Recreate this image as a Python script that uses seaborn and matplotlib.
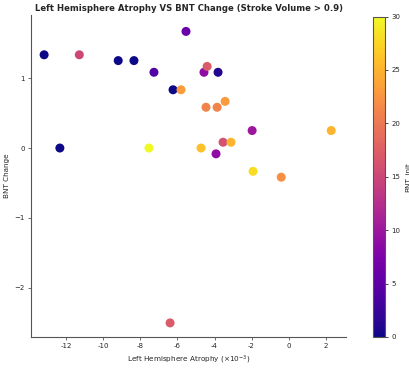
import numpy as np
import pandas as pd
import seaborn as sns
import matplotlib.pyplot as plt
from matplotlib.cm import ScalarMappable
from matplotlib.colors import Normalize

# Values (x in units of 1e-3)
atrophy = [-13.2, -11.3, -12.35, -9.2, -8.35, -7.27, -5.54, -6.24, -5.81,
           -4.57, -4.4, -3.81, -4.46, -3.86, -3.43, -1.97, 2.3, -7.54,
           -4.73, -3.54, -3.11, -3.92, -1.92, -0.4, -6.4]
bnt_change = [1.333, 1.333, 0.0, 1.25, 1.25, 1.083, 1.667, 0.833, 0.833,
              1.083, 1.167, 1.083, 0.583, 0.583, 0.667, 0.25, 0.25, 0.0,
              0.0, 0.083, 0.083, -0.083, -0.333, -0.417, -2.5]
bnt_init = [0, 15, 0, 0, 0, 4, 6, 0, 23,
            9, 17, 1, 21, 21, 23, 10, 25, 30,
            26, 16, 25, 9, 28, 22, 17]

x_ticks = [-12, -10, -8, -6, -4, -2, 0, 2]
x_ticklabels = ['-12', '-10', '-8', '-6', '-4', '-2', '0', '2']

df = pd.DataFrame({'Atrophy': atrophy, 'BNT Change': bnt_change, 'BNT_init': bnt_init})

sns.set_style('white')
plt.rcParams['font.family'] = ['DejaVu Sans']

fig = plt.figure(figsize=(4.1, 3.69), dpi=100)
ax = fig.add_axes([0.076, 0.087, 0.768, 0.872])
cax = fig.add_axes([0.91, 0.087, 0.029, 0.868])

norm = Normalize(0, 30)
sns.scatterplot(data=df, x='Atrophy', y='BNT Change', hue='BNT_init',
                palette='plasma', hue_norm=norm, s=42, linewidth=0,
                legend=False, ax=ax)

ax.set_xlim(-13.9, 3.1)
ax.set_ylim(-2.7, 1.9)
ax.set_xticks(x_ticks)
ax.set_xticklabels(x_ticklabels)
ax.set_yticks([-2, -1, 0, 1])
ax.tick_params(labelsize=5, length=2.5, width=0.6, color='#555555',
               bottom=True, left=True, pad=2)
for side in ['top', 'right']:
    ax.spines[side].set_visible(False)
for side in ['left', 'bottom']:
    ax.spines[side].set_color('#555555')
    ax.spines[side].set_linewidth(0.8)

ax.set_xlabel(r'Left Hemisphere Atrophy ($\times10^{-3}$)', fontsize=5.2, labelpad=3)
ax.set_ylabel('BNT Change', fontsize=5.2, labelpad=3)
ax.set_title('Left Hemisphere Atrophy VS BNT Change (Stroke Volume > 0.9)',
             fontsize=6.1, fontweight='bold', pad=3)

sm = ScalarMappable(norm=norm, cmap='plasma')
cb = fig.colorbar(sm, cax=cax)
cb.set_label('BNT_init', fontsize=5.2, labelpad=3)
cb.ax.tick_params(labelsize=5, length=2.5, width=0.6, pad=2)
cb.outline.set_edgecolor('#555555')
cb.outline.set_linewidth(0.8)

fig.savefig('out.png', dpi=100)
